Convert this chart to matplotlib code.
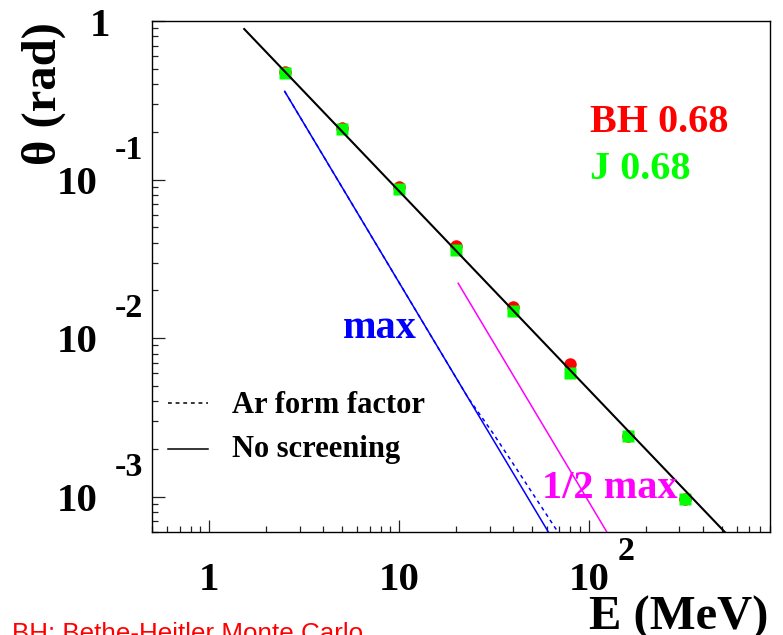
import matplotlib
matplotlib.use("Agg")
import matplotlib.pyplot as plt
from matplotlib.lines import Line2D

# ---- data -------------------------------------------------------------
energy_mev = [2.5, 5, 10, 20, 40, 80, 160, 320]
theta_bh = [0.48, 0.21, 0.090, 0.0382, 0.0157, 0.00686, 0.00242, 0.00097]
theta_j = [0.47, 0.209, 0.0878, 0.0360, 0.0148, 0.00603, 0.00242, 0.00097]

# analytic curves (straight in log-log)
nosc_e = [1.53, 520.0]
nosc_theta = [0.89, 6.0e-4]

max_e = [2.5, 61.2]
max_theta = [0.36, 6.0e-4]

max_ff_e = [2.5, 23.0, 31.4, 45.0, 68.7]
max_ff_theta = [0.36, 4.25e-3, 2.5e-3, 1.3e-3, 6.0e-4]

half_e = [20.5, 124.4]
half_theta = [0.0222, 6.0e-4]

x_ticks = [1, 10, 100]
y_ticks = [1e-3, 1e-2, 1e-1, 1]

# ---- figure -----------------------------------------------------------
W, H = 783, 635
fig = plt.figure(figsize=(W / 100, H / 100), dpi=100)
ax_l, ax_t, ax_r, ax_b = 152, 21, 770, 532
ax = fig.add_axes([ax_l / W, 1 - ax_b / H, (ax_r - ax_l) / W, (ax_b - ax_t) / H])
ax.set_xscale("log")
ax.set_yscale("log")
ax.set_xlim(0.5, 900)
ax.set_ylim(6e-4, 1)

for s in ax.spines.values():
    s.set_linewidth(1.0)
ax.tick_params(which="both", direction="in", top=False, right=False,
               labelbottom=False, labelleft=False, width=0.9, color="#222222")
ax.tick_params(which="major", length=9)
ax.tick_params(which="minor", length=4.5)
ax.set_xticks(x_ticks)
ax.set_yticks(y_ticks)

# markers
ax.plot(energy_mev, theta_bh, "o", color="#ff0000", ms=9, mec="none", zorder=3)
ax.plot(energy_mev, theta_j, "s", color="#00ff00", ms=9.2, mec="none", zorder=4)

# curves
ax.plot(nosc_e, nosc_theta, "-", color="black", lw=1.5, zorder=5)
ax.plot(max_e, max_theta, "-", color="#0000ff", lw=1.1, zorder=5)
ax.plot(max_ff_e, max_ff_theta, color="#0000ff", lw=1.1, ls=(0, (2.5, 2.5)), zorder=5)
ax.plot(half_e, half_theta, "-", color="#ff00ff", lw=1.1, zorder=5)

PX = 0.72  # pixels -> points
serif = dict(family="Liberation Serif", weight="bold")

# y tick labels (ROOT style: base + detached exponent)
for t in y_ticks:
    if t == 1:
        ax.annotate("1", xy=(0, t), xycoords=("axes fraction", "data"),
                    xytext=(-42 * PX, -15 * PX), textcoords="offset points",
                    ha="right", va="baseline", fontsize=29.5, **serif)
        continue
    exp = f"{int(round(__import__('math').log10(t)))}"
    ax.annotate("10", xy=(0, t), xycoords=("axes fraction", "data"),
                xytext=(-54 * PX, -14 * PX), textcoords="offset points",
                ha="right", va="baseline", fontsize=29.5, **serif)
    ax.annotate(exp, xy=(0, t), xycoords=("axes fraction", "data"),
                xytext=(-37 * PX, 21 * PX), textcoords="offset points",
                ha="left", va="baseline", fontsize=24.5, **serif)

# x tick labels
for t, base, exp in [(1, "1", None), (10, "10", None), (100, "10", "2")]:
    ax.annotate(base, xy=(t, 0), xycoords=("data", "axes fraction"),
                xytext=(0, -58 * PX), textcoords="offset points",
                ha="center", va="baseline", fontsize=29.5, **serif)
    if exp:
        ax.annotate(exp, xy=(t, 0), xycoords=("data", "axes fraction"),
                    xytext=(29 * PX, -28 * PX), textcoords="offset points",
                    ha="left", va="baseline", fontsize=24.5, **serif)

# axis titles
fig.text(768 / W, 1 - 630 / H, "E (MeV)", ha="right", va="baseline",
         fontsize=35, **serif)
fig.text(44 / W, 1 - 22 / H, "θ (rad)", rotation=90, ha="center", va="top",
         fontsize=35, **serif)

# annotations inside the frame
ax.text(0.709, 0.783, "BH 0.68", transform=ax.transAxes, color="#ff0000",
        fontsize=29, ha="left", va="baseline", **serif)
ax.text(0.709, 0.691, "J 0.68", transform=ax.transAxes, color="#00ff00",
        fontsize=29, ha="left", va="baseline", **serif)
ax.text(0.309, 0.380, "max", transform=ax.transAxes, color="#0000ff",
        fontsize=29, ha="left", va="baseline", zorder=6, **serif)
ax.text(0.631, 0.0665, "1/2 max", transform=ax.transAxes, color="#ff00ff",
        fontsize=29, ha="left", va="baseline", zorder=6, **serif)

# legend
lx0, lx1 = (168 - ax_l) / (ax_r - ax_l), (208 - ax_l) / (ax_r - ax_l)
ly_dash = (ax_b - 403) / (ax_b - ax_t)
ly_solid = (ax_b - 449) / (ax_b - ax_t)
ax.add_line(Line2D([lx0, lx1], [ly_dash, ly_dash], transform=ax.transAxes,
                   color="black", lw=1.1, ls=(0, (2.5, 2.5))))
ax.add_line(Line2D([lx0, lx1], [ly_solid, ly_solid], transform=ax.transAxes,
                   color="black", lw=1.1))
ax.text(0.129, 0.233, "Ar form factor", transform=ax.transAxes,
        fontsize=22, ha="left", va="baseline", **serif)
ax.text(0.129, 0.147, "No screening", transform=ax.transAxes,
        fontsize=22, ha="left", va="baseline", **serif)

# footnote
fig.text(12 / W, 1 - 641 / H, "BH: Bethe-Heitler Monte Carlo", color="#ff0000",
         fontsize=18.7, family="Liberation Sans", ha="left", va="baseline")

fig.savefig("out.png", dpi=100)
